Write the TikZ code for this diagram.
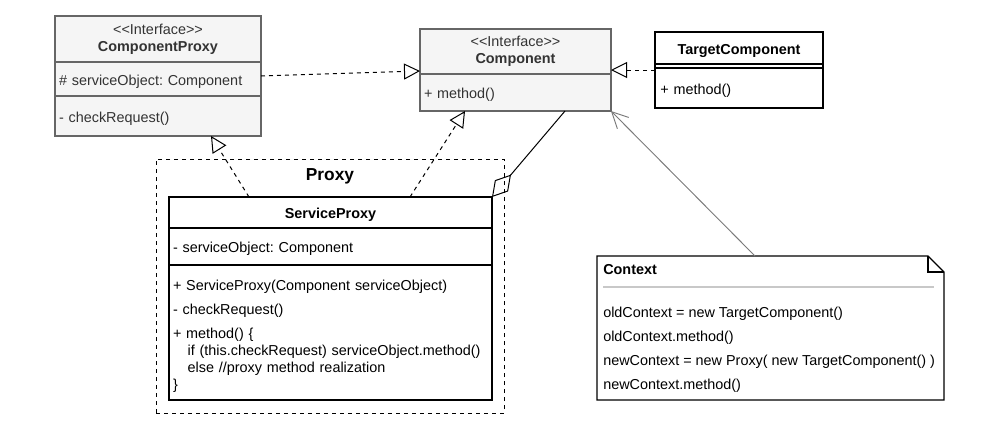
\documentclass[tikz,border=0pt]{standalone}
\usepackage{fontspec}
\setmainfont{Liberation Sans}
\usetikzlibrary{arrows.meta,positioning,calc}
\frenchspacing

\definecolor{boxfill}{HTML}{F5F5F5}
\definecolor{boxline}{HTML}{666666}
\definecolor{boxtext}{HTML}{333333}
\definecolor{notesep}{HTML}{C8C8C8}
\definecolor{linkgray}{HTML}{7A7A7A}

\begin{document}
\begin{tikzpicture}[x=0.75pt,y=-0.75pt,
  font=\fontsize{10.8pt}{12.75pt}\selectfont,
  head/.style={rectangle,inner xsep=3pt,inner ysep=0pt,outer sep=0pt,align=center,
    execute at begin node={\rule{0pt}{9.5pt}}},
  part/.style={rectangle,inner xsep=3pt,inner ysep=0pt,outer sep=0pt,align=left,
    execute at begin node={\rule{0pt}{11.7pt}}},
  iface/.style={draw=boxline,fill=boxfill,text=boxtext,line width=0.9pt},
  plain/.style={draw=black,fill=white,line width=1pt},
  realize/.style={line width=0.75pt,dash pattern=on 3pt off 3pt,
    -{Triangle[open,length=12pt,width=12pt]}},
  aggr/.style={line width=0.75pt,-{Diamond[open,length=22pt,width=13pt]}},
  uses/.style={draw=linkgray,line width=0.7pt,-{Straight Barb[length=12pt,width=12pt]}}]
\useasboundingbox (0,0) rectangle (1000,430);

% ComponentProxy interface
\node[head,iface,anchor=north west,minimum width=154.5pt,minimum height=34.5pt]
  (cpHead) at (55,16) {<{}<Interface>{}>\\\textbf{ComponentProxy}};
\node[part,iface,text width=148.5pt,minimum height=25.5pt,below=0pt of cpHead]
  (cpAttr) {\# serviceObject: Component};
\node[part,iface,text width=148.5pt,minimum height=30pt,below=0pt of cpAttr]
  (cpMeth) {- checkRequest()};

% Component interface
\node[head,iface,anchor=north west,minimum width=143.25pt,minimum height=33.75pt]
  (compHead) at (420,29) {<{}<Interface>{}>\\\textbf{Component}};
\node[part,iface,text width=137.25pt,minimum height=27.75pt,below=0pt of compHead]
  (compMeth) {+ method()};

% TargetComponent
\node[head,plain,anchor=north west,minimum width=126pt,minimum height=24pt]
  (tcHead) at (655,32) {\rule{0pt}{11.7pt}\textbf{TargetComponent}};
\node[rectangle,outer sep=0pt,inner sep=0pt,plain,minimum width=126pt,minimum height=3pt,
  below=0pt of tcHead] (tcAttr) {};
\node[part,plain,text width=118pt,inner xsep=4pt,minimum height=30pt,below=0pt of tcAttr]
  (tcMeth) {+ method()};

% Proxy package
\node[draw,line width=0.75pt,dash pattern=on 3pt off 3pt,anchor=north west,outer sep=0pt,
  minimum width=261pt,minimum height=190.5pt] (pkg) at (156,159) {};
\node[font=\fontsize{13pt}{15pt}\selectfont\bfseries] (pkgTitle) at (330,176) {Proxy};

% ServiceProxy
\node[head,plain,anchor=north west,minimum width=242.25pt,minimum height=23.25pt]
  (spHead) at (169,197) {\rule{0pt}{11.7pt}\textbf{ServiceProxy}};
\node[part,plain,text width=236.25pt,minimum height=27.75pt,below=0pt of spHead]
  (spAttr) {- serviceObject: Component};
\node[part,plain,text width=236.25pt,minimum height=101.25pt,below=0pt of spAttr]
  (spMeth) {\rule{0pt}{13pt}+ ServiceProxy(Component serviceObject)\\[5.25pt]
  - checkRequest()\\[5.25pt]
  + method() \{\\
  \hspace*{11pt}if (this.checkRequest) serviceObject.method()\\
  \hspace*{11pt}else //proxy method realization\\
  \}};

% Context note
\node[anchor=north west,minimum width=260.25pt,minimum height=108pt,inner sep=0pt,outer sep=0pt]
  (ctx) at (597,256) {};
\draw[line width=0.9pt,fill=white] (ctx.north west) -- ($(ctx.north east)+(-16,0)$)
  -- ($(ctx.north east)+(0,16)$) -- (ctx.south east) -- (ctx.south west) -- cycle;
\draw[line width=0.9pt] ($(ctx.north east)+(-16,0)$) -- ++(0,16) -- ++(16,0);
\node[anchor=west,inner sep=0pt] (ctxTitle) at ($(ctx.north west)+(6,14)$)
  {\textbf{Context}};
\draw[draw=notesep,line width=1.5pt] ($(ctx.north west)+(6,31)$) -- ($(ctx.north east)+(-10,31)$);
\node[anchor=north west,inner sep=0pt,align=left,font=\fontsize{10.8pt}{18pt}\selectfont]
  (ctxBody) at ($(ctx.north west)+(6,50.5)$)
  {oldContext = new TargetComponent()\\
  oldContext.method()\\
  newContext = new Proxy( new TargetComponent() )\\
  newContext.method()};

% relations
\draw[realize] ($(cpAttr.east)+(0,-3)$) -- ($(compHead.south west)+(0,-3)$);
\draw[realize] ($(tcMeth.north west)+(0,2)$) -- ($(compHead.south east)+(0,-4)$);
\draw[realize] ($(spHead.north west)+(80,0)$) -- ($(cpMeth.south)+(53,0)$);
\draw[realize] ($(spHead.north west)+(241,0)$) -- ($(compMeth.south west)+(45,0)$);
\draw[aggr] ($(compMeth.south west)+(145,0)$) -- (spHead.north east);
\draw[uses] ($(ctx.north west)+(158,0)$) -- (compMeth.south east);
\end{tikzpicture}
\end{document}
